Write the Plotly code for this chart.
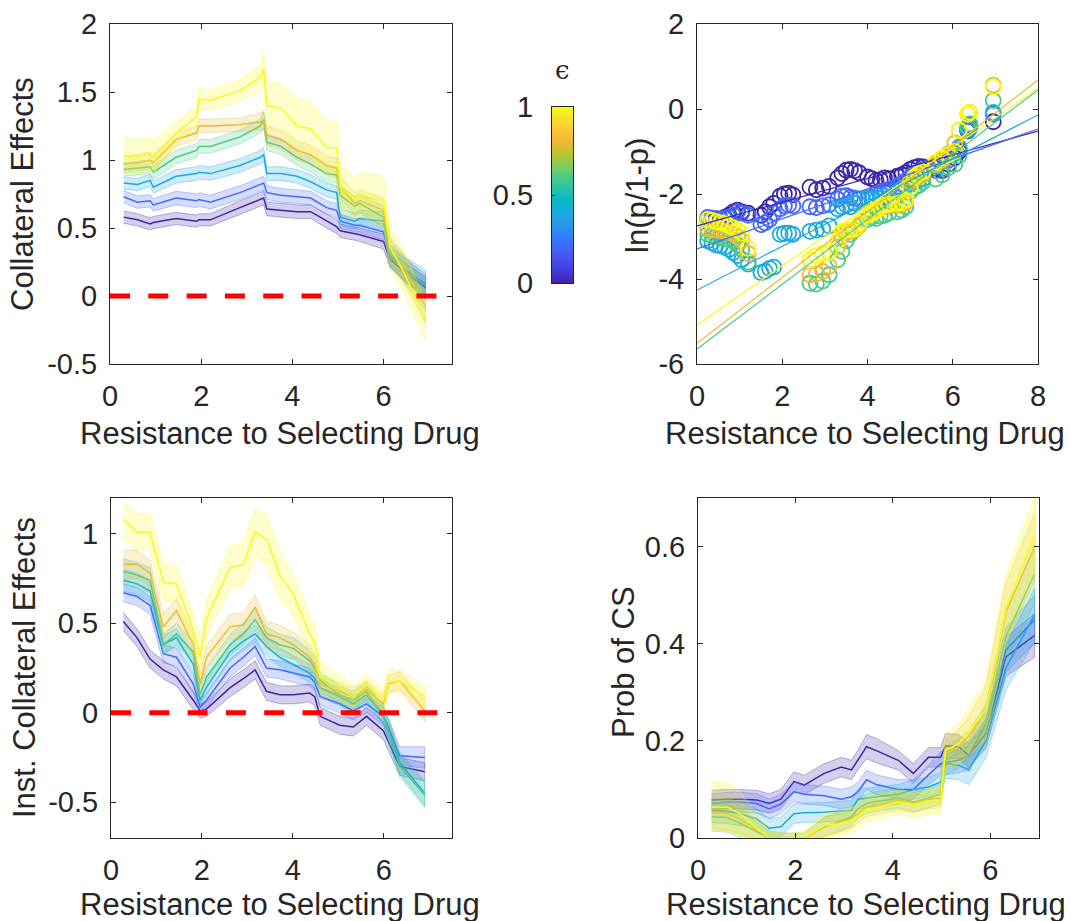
import plotly.graph_objects as go

# ---------------------------------------------------------------- data
EPS_LEVELS = [0.0, 0.2, 0.4, 0.6, 0.8, 1.0]
SERIES_COLORS = ["#3E26A8", "#4367FD", "#1CA9DF", "#48CB86", "#EABA30", "#F9FB15"]

# Collateral effects (top left)
TL_X = [0.3, 0.6, 0.88, 0.95, 1.45, 1.9, 1.95, 2.2, 2.85, 3.3, 3.37, 3.44,
        3.75, 4.1, 4.4, 4.75, 4.97, 5.05, 5.37, 5.48, 6.0, 6.14, 6.45, 6.92]
TL_Y_E0 = [0.58, 0.56, 0.53, 0.54, 0.57, 0.55, 0.56, 0.56, 0.65, 0.71, 0.72, 0.64,
           0.63, 0.62, 0.62, 0.55, 0.51, 0.48, 0.46, 0.45, 0.40, 0.27, 0.18, 0.06]
TL_Y_E2 = [0.73, 0.69, 0.70, 0.67, 0.72, 0.70, 0.71, 0.69, 0.76, 0.82, 0.83, 0.76,
           0.74, 0.73, 0.72, 0.65, 0.63, 0.55, 0.52, 0.52, 0.47, 0.29, 0.20, 0.07]
TL_Y_E4 = [0.83, 0.82, 0.85, 0.80, 0.88, 0.90, 0.91, 0.90, 0.96, 1.02, 1.04, 0.90,
           0.90, 0.88, 0.84, 0.78, 0.76, 0.58, 0.55, 0.57, 0.55, 0.30, 0.20, 0.09]
TL_Y_E6 = [0.93, 0.94, 0.95, 0.91, 1.02, 1.07, 1.10, 1.10, 1.17, 1.25, 1.30, 1.13,
           1.10, 1.02, 0.97, 0.90, 0.89, 0.74, 0.66, 0.68, 0.58, 0.33, 0.20, 0.00]
TL_Y_E8 = [0.97, 0.98, 1.00, 0.98, 1.15, 1.20, 1.25, 1.25, 1.26, 1.28, 1.29, 1.18,
           1.15, 1.07, 1.04, 0.96, 0.94, 0.80, 0.68, 0.70, 0.63, 0.34, 0.20, -0.08]
TL_Y_E10 = [1.03, 1.03, 1.04, 1.02, 1.20, 1.32, 1.45, 1.44, 1.51, 1.61, 1.67, 1.40,
            1.38, 1.25, 1.23, 1.09, 1.09, 0.80, 0.71, 0.75, 0.69, 0.36, 0.17, -0.18]
TL_ERR_E0 = [0.045, 0.045, 0.045, 0.045, 0.045, 0.045, 0.045, 0.045, 0.05, 0.05, 0.05, 0.05,
             0.05, 0.05, 0.05, 0.05, 0.05, 0.05, 0.05, 0.05, 0.055, 0.06, 0.07, 0.08]
TL_ERR_E2 = [0.045, 0.045, 0.045, 0.045, 0.05, 0.05, 0.05, 0.05, 0.05, 0.05, 0.05, 0.05,
             0.05, 0.05, 0.05, 0.05, 0.05, 0.05, 0.05, 0.05, 0.06, 0.07, 0.08, 0.09]
TL_ERR_E4 = [0.045, 0.045, 0.045, 0.045, 0.05, 0.05, 0.05, 0.05, 0.05, 0.05, 0.05, 0.05,
             0.05, 0.05, 0.05, 0.05, 0.05, 0.06, 0.06, 0.06, 0.07, 0.08, 0.09, 0.10]
TL_ERR_E6 = [0.05, 0.05, 0.05, 0.05, 0.05, 0.05, 0.05, 0.05, 0.05, 0.05, 0.06, 0.06,
             0.06, 0.06, 0.06, 0.06, 0.06, 0.07, 0.07, 0.07, 0.08, 0.09, 0.10, 0.11]
TL_ERR_E8 = [0.06, 0.06, 0.06, 0.06, 0.05, 0.05, 0.05, 0.05, 0.05, 0.06, 0.06, 0.07,
             0.07, 0.07, 0.07, 0.07, 0.07, 0.08, 0.08, 0.08, 0.09, 0.10, 0.11, 0.12]
TL_ERR_E10 = [0.13, 0.12, 0.12, 0.12, 0.08, 0.07, 0.08, 0.07, 0.08, 0.09, 0.12, 0.18,
              0.18, 0.20, 0.20, 0.19, 0.19, 0.17, 0.15, 0.16, 0.19, 0.16, 0.15, 0.15]

# ln(p/1-p) scatter (top right); None where p = 0
TR_X = [0.25, 0.35, 0.45, 0.55, 0.65, 0.75, 0.85, 0.95, 1.05, 1.2,
        1.5, 1.6, 1.7, 1.8, 1.95, 2.05, 2.15, 2.25,
        2.65, 2.8, 2.95, 3.1, 3.3, 3.4, 3.5, 3.6, 3.7, 3.8,
        4.0, 4.1, 4.2, 4.3, 4.4, 4.5, 4.7, 4.8, 4.9, 5.0, 5.1, 5.2, 5.3,
        5.6, 5.75, 5.9, 6.05, 6.15, 6.35, 6.4, 6.95]
TR_Y_E0 = [-2.60, -2.62, -2.58, -2.60, -2.55, -2.50, -2.42, -2.38, -2.42, -2.45,
           -2.50, -2.42, -2.30, -2.22, -2.05, -2.00, -1.98, -2.02,
           -1.84, -1.90, -1.86, -1.82, -1.62, -1.52, -1.44, -1.42, -1.45, -1.50,
           -1.60, -1.64, -1.68, -1.66, -1.62, -1.64, -1.58, -1.55, -1.50, -1.42, -1.38, -1.35, -1.36,
           -1.40, -1.45, -1.30, -1.15, -1.00, -0.52, -0.45, -0.30]
TR_Y_E2 = [-2.55, -2.57, -2.62, -2.60, -2.58, -2.55, -2.50, -2.42, -2.45, -2.50,
           -2.72, -2.68, -2.60, -2.45, -2.35, -2.28, -2.26, -2.28,
           -2.30, -2.32, -2.28, -2.25, -2.12, -2.05, -2.04, -2.08, -2.10, -2.12,
           -2.12, -2.08, -2.00, -1.98, -1.95, -1.90, -1.82, -1.76, -1.68, -1.60, -1.52, -1.48, -1.42,
           -1.45, -1.40, -1.20, -1.05, -0.95, -0.45, -0.38, -0.12]
TR_Y_E4 = [-3.10, -3.15, -3.20, -3.22, -3.25, -3.30, -3.38, -3.45, -3.55, -3.65,
           -3.85, -3.82, -3.75, -3.72, -2.95, -2.93, -2.92, -2.95,
           -2.88, -2.85, -2.82, -2.75, -2.35, -2.30, -2.26, -2.30, -2.22, -2.12,
           -2.10, -2.12, -2.15, -2.10, -2.05, -2.10, -1.95, -1.88, -1.82, -1.75, -1.72, -1.68, -1.65,
           -1.35, -1.22, -1.10, -1.04, -0.90, -0.50, -0.45, -0.08]
TR_Y_E6 = [-2.95, -2.98, -3.00, -3.02, -3.05, -3.08, -3.10, -3.20, -3.30, -3.60,
           None, None, None, None, None, None, None, None,
           -4.10, -4.12, -4.05, -3.90, -3.55, -3.35, -3.10, -2.95, -2.85, -2.72,
           -2.60, -2.55, -2.58, -2.52, -2.50, -2.45, -2.42, -2.38, -2.30, -1.95, -1.85, -1.80, -1.72,
           -1.65, -1.55, -1.38, -1.30, -1.10, -0.42, -0.35, 0.20]
TR_Y_E8 = [-2.82, -2.84, -2.85, -2.86, -2.88, -2.90, -2.95, -3.00, -3.10, -3.40,
           None, None, None, None, None, None, None, None,
           -3.90, -3.88, -3.82, -3.70, -3.25, -3.00, -2.90, -2.88, -2.85, -2.75,
           -2.45, -2.40, -2.38, -2.32, -2.30, -2.28, -2.28, -2.25, -2.20, -1.72, -1.65, -1.60, -1.55,
           -1.30, -1.20, -1.05, -0.80, -0.50, -0.12, -0.08, 0.56]
TR_Y_E10 = [-2.60, -2.62, -2.65, -2.68, -2.70, -2.75, -2.80, -2.85, -2.92, -3.28,
            None, None, None, None, None, None, None, None,
            -3.55, -3.45, -3.40, -3.36, -3.10, -2.88, -2.85, -2.84, -2.82, -2.70,
            -2.50, -2.45, -2.40, -2.30, -2.26, -2.24, -2.22, -2.20, -2.15, -1.85, -1.60, -1.52, -1.48,
            -1.25, -1.15, -1.08, -1.00, -0.50, -0.12, -0.08, 0.52]
# linear fits ln(p/1-p) = b0 + b1 * x
FIT_X = [0, 8]
FIT_B0 = [-2.75, -3.29, -4.26, -5.65, -5.51, -5.08]
FIT_B1 = [0.279, 0.3525, 0.515, 0.7625, 0.774, 0.696]

# Instantaneous collateral effects (bottom left)
BL_X = [0.27, 0.57, 0.86, 1.15, 1.44, 1.81, 1.96, 2.1, 2.62, 2.91, 3.17, 3.42,
        3.71, 4.01, 4.37, 4.48, 4.6, 5.03, 5.33, 5.62, 5.99, 6.1, 6.35, 6.9]
BL_Y_E0 = [0.51, 0.42, 0.30, 0.24, 0.20, 0.07, 0.01, 0.02, 0.14, 0.19, 0.24, 0.12,
           0.10, 0.10, 0.11, 0.09, -0.02, -0.07, -0.08, -0.02, -0.10, -0.16, -0.30, -0.33]
BL_Y_E2 = [0.67, 0.65, 0.60, 0.33, 0.31, 0.16, 0.03, 0.07, 0.25, 0.31, 0.37, 0.25,
           0.24, 0.22, 0.20, 0.17, 0.09, 0.05, 0.01, 0.05, -0.02, -0.08, -0.24, -0.25]
BL_Y_E4 = [0.74, 0.72, 0.68, 0.38, 0.42, 0.27, 0.07, 0.14, 0.34, 0.40, 0.44, 0.37,
           0.31, 0.27, 0.22, 0.19, 0.14, 0.09, 0.05, 0.10, -0.01, -0.10, -0.28, -0.45]
BL_Y_E6 = [0.79, 0.77, 0.74, 0.38, 0.44, 0.34, 0.10, 0.20, 0.38, 0.44, 0.52, 0.42,
           0.38, 0.36, 0.29, 0.25, 0.18, 0.10, 0.07, 0.12, -0.02, -0.10, -0.30, -0.46]
BL_Y_E8 = [0.83, 0.83, 0.78, 0.48, 0.57, 0.38, 0.16, 0.31, 0.48, 0.49, 0.59, 0.44,
           0.42, 0.38, 0.31, 0.27, 0.16, 0.12, 0.09, 0.13, 0.05, 0.16, 0.18, 0.01]
BL_Y_E10 = [1.08, 1.01, 1.01, 0.73, 0.72, 0.46, 0.31, 0.53, 0.81, 0.83, 1.01, 0.97,
            0.77, 0.66, 0.44, 0.39, 0.20, 0.14, 0.09, 0.16, 0.07, 0.17, 0.18, 0.09]
BL_ERR_E0 = [0.05, 0.05, 0.05, 0.05, 0.05, 0.05, 0.04, 0.04, 0.05, 0.05, 0.05, 0.05,
             0.05, 0.05, 0.05, 0.05, 0.05, 0.05, 0.05, 0.05, 0.05, 0.05, 0.05, 0.05]
BL_ERR_E2 = [0.05, 0.05, 0.05, 0.05, 0.05, 0.05, 0.04, 0.04, 0.05, 0.05, 0.05, 0.05,
             0.05, 0.05, 0.05, 0.05, 0.05, 0.05, 0.05, 0.05, 0.05, 0.05, 0.05, 0.06]
BL_ERR_E4 = [0.06, 0.06, 0.06, 0.05, 0.05, 0.05, 0.04, 0.04, 0.05, 0.05, 0.05, 0.05,
             0.05, 0.05, 0.05, 0.05, 0.05, 0.05, 0.05, 0.05, 0.05, 0.06, 0.06, 0.07]
BL_ERR_E6 = [0.07, 0.07, 0.07, 0.06, 0.06, 0.06, 0.05, 0.05, 0.06, 0.06, 0.06, 0.06,
             0.06, 0.06, 0.06, 0.06, 0.05, 0.05, 0.05, 0.05, 0.05, 0.06, 0.06, 0.07]
BL_ERR_E8 = [0.08, 0.08, 0.07, 0.07, 0.07, 0.06, 0.06, 0.06, 0.07, 0.07, 0.07, 0.07,
             0.07, 0.07, 0.07, 0.06, 0.05, 0.05, 0.05, 0.05, 0.05, 0.05, 0.05, 0.06]
BL_ERR_E10 = [0.10, 0.10, 0.10, 0.10, 0.10, 0.09, 0.09, 0.10, 0.12, 0.12, 0.13, 0.14,
              0.13, 0.12, 0.10, 0.10, 0.08, 0.07, 0.06, 0.06, 0.06, 0.07, 0.06, 0.06]

# Probability of collateral sensitivity (bottom right)
BR_X = [0.28, 0.59, 0.87, 1.21, 1.46, 1.70, 1.97, 2.18, 2.59, 2.94, 3.15, 3.28,
        3.46, 3.66, 4.11, 4.42, 4.73, 4.98, 5.08, 5.35, 5.56, 5.91, 6.32, 6.91]
BR_Y_E0 = [0.078, 0.080, 0.080, 0.078, 0.071, 0.080, 0.116, 0.109, 0.133, 0.146, 0.140, 0.160,
           0.188, 0.180, 0.160, 0.133, 0.166, 0.166, 0.190, 0.188, 0.170, 0.215, 0.373, 0.417]
BR_Y_E2 = [0.071, 0.074, 0.074, 0.071, 0.060, 0.070, 0.095, 0.090, 0.087, 0.080, 0.085, 0.095,
           0.120, 0.110, 0.100, 0.100, 0.130, 0.153, 0.155, 0.160, 0.170, 0.236, 0.387, 0.450]
BR_Y_E4 = [0.057, 0.055, 0.050, 0.039, 0.020, 0.023, 0.050, 0.052, 0.053, 0.055, 0.057, 0.080,
           0.083, 0.085, 0.090, 0.100, 0.105, 0.115, 0.153, 0.150, 0.140, 0.200, 0.350, 0.460]
BR_Y_E6 = [0.044, 0.042, 0.030, 0.012, 0.0, 0.0, 0.0, 0.0, 0.023, 0.035, 0.044, 0.060,
           0.071, 0.075, 0.082, 0.074, 0.082, 0.090, 0.160, 0.174, 0.190, 0.236, 0.415, 0.544]
BR_Y_E8 = [0.054, 0.051, 0.039, 0.016, 0.0, 0.0, 0.0, 0.0, 0.023, 0.033, 0.040, 0.050,
           0.064, 0.068, 0.078, 0.072, 0.080, 0.082, 0.174, 0.188, 0.210, 0.263, 0.466, 0.599]
BR_Y_E10 = [0.064, 0.064, 0.050, 0.020, 0.0, 0.0, 0.0, 0.0, 0.026, 0.030, 0.036, 0.045,
            0.057, 0.062, 0.074, 0.067, 0.072, 0.077, 0.180, 0.194, 0.220, 0.263, 0.473, 0.623]
BR_ERR_E0 = [0.02, 0.02, 0.02, 0.02, 0.02, 0.02, 0.02, 0.02, 0.02, 0.02, 0.02, 0.02,
             0.025, 0.025, 0.02, 0.02, 0.02, 0.02, 0.025, 0.025, 0.025, 0.03, 0.04, 0.045]
BR_ERR_E2 = [0.02, 0.02, 0.02, 0.02, 0.02, 0.02, 0.02, 0.02, 0.02, 0.02, 0.02, 0.02,
             0.02, 0.02, 0.02, 0.02, 0.02, 0.025, 0.025, 0.025, 0.03, 0.035, 0.045, 0.05]
BR_ERR_E4 = [0.025, 0.025, 0.025, 0.02, 0.02, 0.02, 0.02, 0.02, 0.02, 0.02, 0.02, 0.02,
             0.02, 0.02, 0.02, 0.02, 0.02, 0.02, 0.03, 0.03, 0.03, 0.035, 0.045, 0.055]
BR_ERR_E6 = [0.03, 0.03, 0.03, 0.02, 0.015, 0.01, 0.01, 0.01, 0.02, 0.02, 0.02, 0.02,
             0.02, 0.02, 0.02, 0.02, 0.02, 0.02, 0.03, 0.03, 0.03, 0.04, 0.05, 0.06]
BR_ERR_E8 = [0.035, 0.035, 0.03, 0.02, 0.015, 0.01, 0.01, 0.01, 0.02, 0.02, 0.02, 0.02,
             0.02, 0.02, 0.02, 0.02, 0.02, 0.02, 0.03, 0.035, 0.04, 0.05, 0.06, 0.07]
BR_ERR_E10 = [0.05, 0.05, 0.045, 0.03, 0.015, 0.01, 0.01, 0.015, 0.025, 0.025, 0.025, 0.025,
              0.025, 0.025, 0.025, 0.025, 0.025, 0.025, 0.035, 0.04, 0.05, 0.06, 0.07, 0.08]

# MATLAB parula colormap (sampled)
PARULA = [
    (0.2422, 0.1504, 0.6603), (0.2647, 0.1978, 0.7952), (0.2783, 0.2559, 0.8991),
    (0.2810, 0.3228, 0.9579), (0.2699, 0.3892, 0.9906), (0.2206, 0.4603, 0.9973),
    (0.1786, 0.5289, 0.9682), (0.1540, 0.5902, 0.9218), (0.1248, 0.6459, 0.8883),
    (0.0689, 0.6948, 0.8394), (0.0067, 0.7312, 0.7660), (0.1408, 0.7584, 0.6842),
    (0.2161, 0.7843, 0.5923), (0.3406, 0.8008, 0.4789), (0.5044, 0.7993, 0.3480),
    (0.6720, 0.7793, 0.2227), (0.8203, 0.7498, 0.1535), (0.9393, 0.7288, 0.2100),
    (0.9970, 0.7659, 0.2199), (0.9786, 0.8386, 0.1766), (0.9597, 0.9135, 0.1423),
    (0.9769, 0.9839, 0.0805),
]

# ---------------------------------------------------------------- styling
FONT = "Liberation Sans, Arial, Helvetica, sans-serif"
INK = "#262626"
TICK_SIZE = 29
LABEL_SIZE = 31
W, H = 1071, 921


def rgba(hex_color, alpha):
    h = hex_color.lstrip("#")
    r, g, b = int(h[0:2], 16), int(h[2:4], 16), int(h[4:6], 16)
    return f"rgba({r},{g},{b},{alpha})"


def axis_style(domain, rng, tickvals, ticktext, **extra):
    d = dict(
        domain=domain, range=rng, tickvals=tickvals, ticktext=ticktext,
        showline=True, linecolor=INK, linewidth=1, mirror="ticks",
        ticks="inside", ticklen=5, tickwidth=1, tickcolor=INK,
        showgrid=False, zeroline=False, automargin=False,
        tickfont=dict(family=FONT, size=TICK_SIZE, color=INK),
    )
    d.update(extra)
    return d


def px_x(p):
    return p / W


def px_y(p):
    return 1 - p / H


fig = go.Figure()


def add_band_series(x, y, err, color, xa, ya):
    upper = [v + e for v, e in zip(y, err)]
    lower = [v - e for v, e in zip(y, err)]
    fig.add_trace(go.Scatter(
        x=list(x) + list(x)[::-1], y=upper + lower[::-1],
        fill="toself", fillcolor=rgba(color, 0.22),
        line=dict(color=rgba(color, 0.35), width=1),
        mode="lines", hoverinfo="skip", showlegend=False,
        xaxis=xa, yaxis=ya))
    fig.add_trace(go.Scatter(
        x=x, y=y, mode="lines", line=dict(color=color, width=1.5),
        showlegend=False, xaxis=xa, yaxis=ya))


TL_SERIES = [(TL_Y_E0, TL_ERR_E0), (TL_Y_E2, TL_ERR_E2), (TL_Y_E4, TL_ERR_E4),
             (TL_Y_E6, TL_ERR_E6), (TL_Y_E8, TL_ERR_E8), (TL_Y_E10, TL_ERR_E10)]
BL_SERIES = [(BL_Y_E0, BL_ERR_E0), (BL_Y_E2, BL_ERR_E2), (BL_Y_E4, BL_ERR_E4),
             (BL_Y_E6, BL_ERR_E6), (BL_Y_E8, BL_ERR_E8), (BL_Y_E10, BL_ERR_E10)]
BR_SERIES = [(BR_Y_E0, BR_ERR_E0), (BR_Y_E2, BR_ERR_E2), (BR_Y_E4, BR_ERR_E4),
             (BR_Y_E6, BR_ERR_E6), (BR_Y_E8, BR_ERR_E8), (BR_Y_E10, BR_ERR_E10)]
TR_SERIES = [TR_Y_E0, TR_Y_E2, TR_Y_E4, TR_Y_E6, TR_Y_E8, TR_Y_E10]

for (y, e), c in zip(TL_SERIES, SERIES_COLORS):
    add_band_series(TL_X, y, e, c, "x", "y")
for (y, e), c in zip(BL_SERIES, SERIES_COLORS):
    add_band_series(BL_X, y, e, c, "x3", "y3")
for (y, e), c in zip(BR_SERIES, SERIES_COLORS):
    add_band_series(BR_X, y, e, c, "x4", "y4")

# logit scatter with linear fits
for y, c in zip(TR_SERIES, SERIES_COLORS):
    fig.add_trace(go.Scatter(
        x=TR_X, y=y, mode="markers",
        marker=dict(symbol="circle-open", size=15, color=c, line=dict(width=1.8, color=c)),
        showlegend=False, xaxis="x2", yaxis="y2"))
for b0, b1, c in zip(FIT_B0, FIT_B1, SERIES_COLORS):
    fig.add_trace(go.Scatter(
        x=FIT_X, y=[b0 + b1 * v for v in FIT_X], mode="lines",
        line=dict(color=c, width=1.2), showlegend=False, xaxis="x2", yaxis="y2"))

# colour bar drawn as a one-column heatmap
n_steps = 256
cb_levels = [i / (n_steps - 1) for i in range(n_steps)]
parula_scale = [[i / (len(PARULA) - 1),
                 "rgb(%d,%d,%d)" % tuple(round(255 * v) for v in rgb)]
                for i, rgb in enumerate(PARULA)]
fig.add_trace(go.Heatmap(
    z=[[v] for v in cb_levels], x=[0], y=cb_levels,
    colorscale=parula_scale, zmin=0, zmax=1, showscale=False,
    hoverinfo="skip", xaxis="x5", yaxis="y5"))

# ---------------------------------------------------------------- axes
TOP_Y = [px_y(364), px_y(24)]
BOT_Y = [px_y(838), px_y(498)]

fig.update_layout(
    width=W, height=H,
    margin=dict(l=0, r=0, t=0, b=0, autoexpand=False),
    paper_bgcolor="white", plot_bgcolor="white",
    showlegend=False,
    xaxis=axis_style([px_x(110), px_x(452)], [0, 7.5], [0, 2, 4, 6], ["0", "2", "4", "6"],
                     anchor="y", ticklabelstandoff=6),
    yaxis=axis_style(TOP_Y, [-0.5, 2], [-0.5, 0, 0.5, 1, 1.5, 2],
                     ["-0.5", "0", "0.5", "1", "1.5", "2"], anchor="x", ticklabelstandoff=6),
    xaxis2=axis_style([px_x(697), px_x(1038)], [0, 8], [0, 2, 4, 6, 8],
                      ["0", "2", "4", "6", "8"], anchor="y2", ticklabelstandoff=6),
    yaxis2=axis_style(TOP_Y, [-6, 2], [-6, -4, -2, 0, 2], ["-6", "-4", "-2", "0", "2"],
                      anchor="x2", ticklabelstandoff=6),
    xaxis3=axis_style([px_x(111), px_x(452)], [0, 7.5], [0, 2, 4, 6], ["0", "2", "4", "6"],
                      anchor="y3", ticklabelstandoff=6),
    yaxis3=axis_style(BOT_Y, [-0.7, 1.2], [-0.5, 0, 0.5, 1], ["-0.5", "0", "0.5", "1"],
                      anchor="x3", ticklabelstandoff=6),
    xaxis4=axis_style([px_x(698), px_x(1039)], [0, 7], [0, 2, 4, 6], ["0", "2", "4", "6"],
                      anchor="y4", ticklabelstandoff=6),
    yaxis4=axis_style(BOT_Y, [0, 0.7], [0, 0.2, 0.4, 0.6], ["0", "0.2", "0.4", "0.6"],
                      anchor="x4", ticklabelstandoff=6),
    xaxis5=dict(domain=[px_x(552), px_x(573)], range=[-0.5, 0.5], anchor="y5",
                showline=True, linecolor=INK, linewidth=1, mirror=True, automargin=False,
                showticklabels=False, ticks="", showgrid=False, zeroline=False),
    yaxis5=dict(domain=[px_y(283), px_y(107)], range=[0, 1], anchor="x5",
                tickvals=[0, 0.5, 1], ticktext=["0", "0.5", "1"], automargin=False,
                showline=True, linecolor=INK, linewidth=1, mirror=True,
                ticks="inside", ticklen=3, tickcolor=INK, showgrid=False, zeroline=False,
                ticklabelstandoff=12,
                tickfont=dict(family=FONT, size=TICK_SIZE, color=INK)),
)

# dashed zero reference in the two collateral-effect panels
for xa, ya in (("x", "y"), ("x3", "y3")):
    fig.add_shape(type="line", xref=f"{xa} domain", yref=ya, x0=0, x1=1, y0=0, y1=0,
                  line=dict(color="#FF0000", width=5, dash="20px,18.3px"), layer="above")

# ---------------------------------------------------------------- titles
title_font = dict(family=FONT, size=LABEL_SIZE, color=INK)
titles = [
    ("Resistance to Selecting Drug", 280, 433, 0),
    ("Resistance to Selecting Drug", 865, 433, 0),
    ("Resistance to Selecting Drug", 280, 904, 0),
    ("Resistance to Selecting Drug", 866, 904, 0),
    ("Collateral Effects", 23, 194, -90),
    ("ln(p/1-p)", 638, 196, -90),
    ("Inst. Collateral Effects", 24, 668, -90),
    ("Prob of CS", 623, 662, -90),
]
for text, cx, cy, ang in titles:
    fig.add_annotation(text=text, x=px_x(cx), y=px_y(cy), xref="paper", yref="paper",
                       xanchor="center", yanchor="middle", showarrow=False,
                       textangle=ang, font=title_font)

fig.add_annotation(text="ϵ", x=px_x(562.5), y=px_y(70), xref="paper", yref="paper",
                   xanchor="center", yanchor="middle", showarrow=False,
                   font=dict(family="DejaVu Serif, serif", size=26, color=INK))

fig.write_html("out.html")
